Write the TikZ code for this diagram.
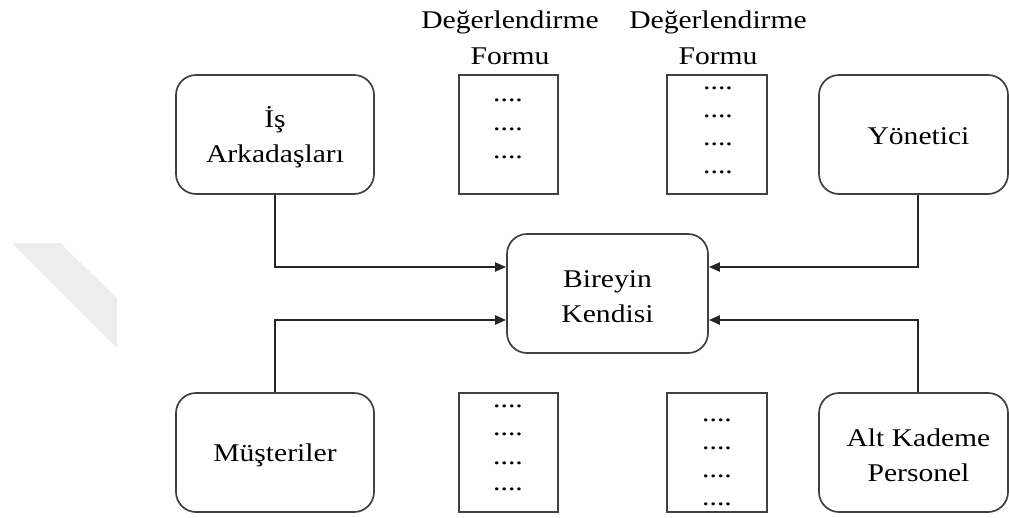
\documentclass[tikz,border=0pt]{standalone}
\usepackage{fontspec}
\setmainfont{Liberation Serif}[FakeStretch=1.16]
\usetikzlibrary{arrows.meta}
\begin{document}
\begin{tikzpicture}[x=1pt,y=-1pt,
  every node/.style={font=\fontsize{25.5}{35}\selectfont, text=black},
  rbox/.style={draw=black!75, line width=1.7pt, rounded corners=20pt, inner sep=0pt, minimum height=119pt},
  fbox/.style={draw=black!75, line width=1.7pt, inner sep=0pt, minimum width=99pt, minimum height=119pt},
  lbl/.style={align=center, inner sep=0pt},
  dotrow/.style={inner sep=0pt, text height=4pt, text depth=0pt},
  head/.style={align=center, anchor=north, inner sep=0pt, font=\fontsize{25.5}{36}\selectfont},
  conn/.style={draw=black!85, line width=2pt, -{Triangle[length=11pt,width=9pt]}}
]
\useasboundingbox (0,0) rectangle (1009,517);
\fill[black!7] (12,243) -- (60,243) -- (117,298) -- (117,348) -- cycle;

\node[rbox, minimum width=198pt] (is) at (275,134.5) {};
\node[fbox] (f1) at (508.5,134.5) {};
\node[fbox, minimum width=100pt] (f2) at (717,134.5) {};
\node[rbox, minimum width=189pt] (yon) at (913.5,134.5) {};
\node[rbox, minimum width=201pt] (ctr) at (607.5,293.5) {};
\node[rbox, minimum width=198pt] (mus) at (275,452.5) {};
\node[fbox] (f3) at (508.5,452.5) {};
\node[fbox, minimum width=100pt] (f4) at (717,452.5) {};
\node[rbox, minimum width=189pt] (alt) at (913.5,452.5) {};

\node[lbl] (isT) at (275,137) {İş\\Arkadaşları};
\node[lbl] (yonT) at (918.5,136) {Yönetici};
\node[lbl] (ctrT) at (607.5,296.5) {Bireyin\\Kendisi};
\node[lbl] (musT) at (275,455) {Müşteriler};
\node[lbl] (altT) at (918.5,455) {Alt Kademe\\Personel};

\node[head] (h1) at (510,11) {Değerlendirme\\Formu};
\node[head] (h2) at (718,11) {Değerlendirme\\Formu};

\foreach \y [count=\i] in {99,128,156} \node[dotrow] (fa\i) at (508,\y) {....};
\foreach \y [count=\i] in {87,115,143,171} \node[dotrow] (fb\i) at (718,\y) {....};
\foreach \y [count=\i] in {405,433,462,488} \node[dotrow] (fc\i) at (508,\y) {....};
\foreach \y [count=\i] in {419,447,475,503} \node[dotrow] (fd\i) at (717,\y) {....};

\draw[conn] (is.south) |- ([yshift=26.5pt]ctr.west);
\draw[conn] (mus.north) |- ([yshift=-26.5pt]ctr.west);
\draw[conn] ([xshift=4.5pt]yon.south) |- ([yshift=26.5pt]ctr.east);
\draw[conn] ([xshift=4.5pt]alt.north) |- ([yshift=-26.5pt]ctr.east);
\end{tikzpicture}
\end{document}
